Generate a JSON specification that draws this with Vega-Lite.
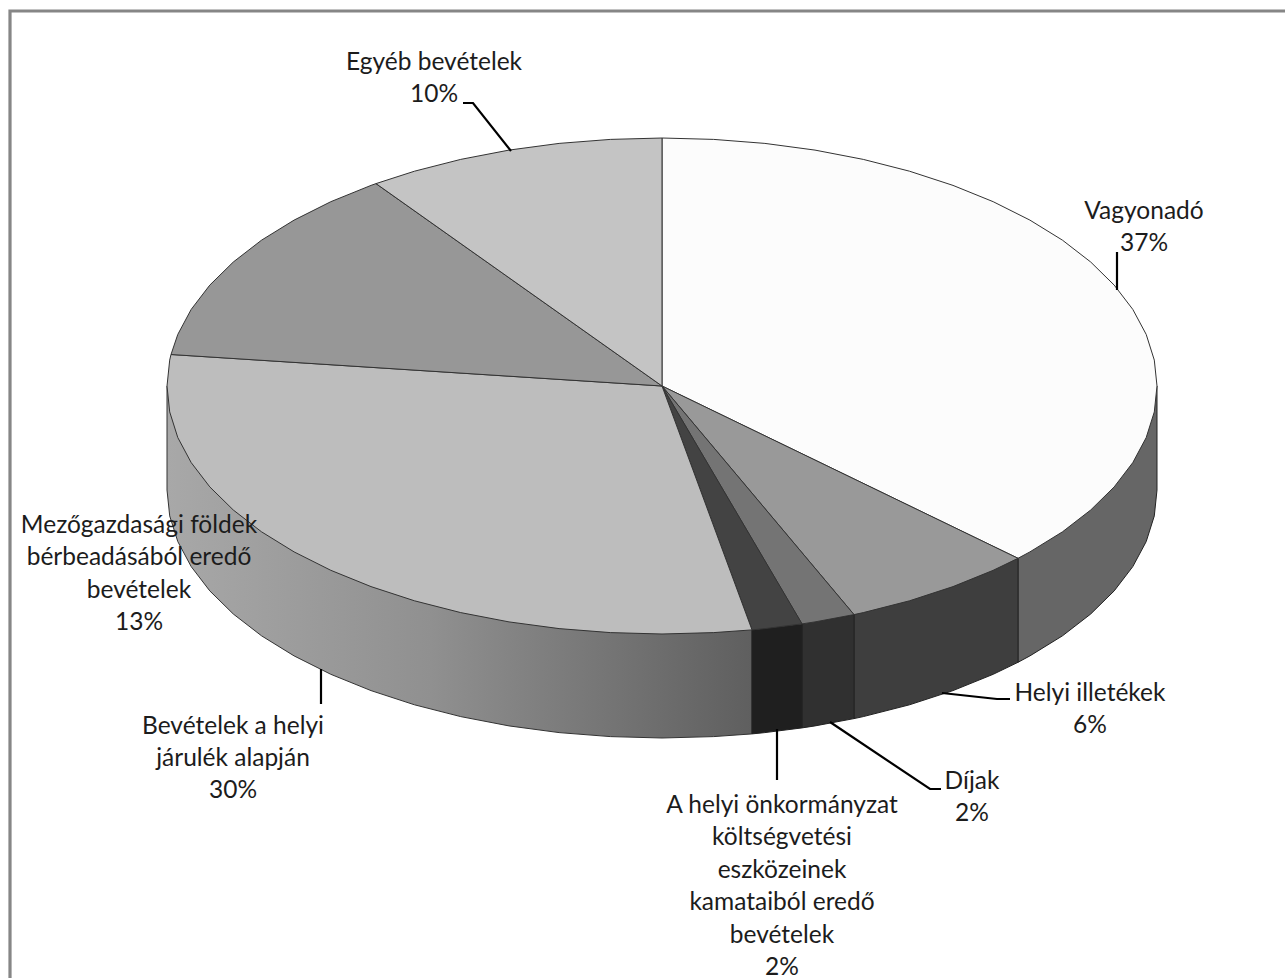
{
"$schema":"https://vega.github.io/schema/vega-lite/v6.json",
"width":1285,"height":978,"padding":0,"autosize":{"type":"none"},"background":"white",
"config":{"view":{"stroke":null}},
"datasets":{
"walls":[
{"slice":"Vagyonadó","i":0,"x":495,"y":0},{"slice":"Vagyonadó","i":1,"x":495,"y":-104},{"slice":"Vagyonadó","i":2,"x":492.3,"y":-129.9},{"slice":"Vagyonadó","i":3,"x":484.2,"y":-155.6},{"slice":"Vagyonadó","i":4,"x":470.8,"y":-180.6},{"slice":"Vagyonadó","i":5,"x":452.2,"y":-204.9},{"slice":"Vagyonadó","i":6,"x":428.7,"y":-228},{"slice":"Vagyonadó","i":7,"x":400.5,"y":-249.8},{"slice":"Vagyonadó","i":8,"x":367.9,"y":-269.9},{"slice":"Vagyonadó","i":9,"x":356,"y":-276.3},{"slice":"Vagyonadó","i":10,"x":356,"y":-172.3},{"slice":"Vagyonadó","i":11,"x":495,"y":0},
{"slice":"Helyi illetékek","i":0,"x":356,"y":-172.3},{"slice":"Helyi illetékek","i":1,"x":356,"y":-276.3},{"slice":"Helyi illetékek","i":2,"x":331.2,"y":-288.3},{"slice":"Helyi illetékek","i":3,"x":291,"y":-304.6},{"slice":"Helyi illetékek","i":4,"x":247.5,"y":-318.8},{"slice":"Helyi illetékek","i":5,"x":201.3,"y":-330.6},{"slice":"Helyi illetékek","i":6,"x":192,"y":-332.6},{"slice":"Helyi illetékek","i":7,"x":192,"y":-228.6},{"slice":"Helyi illetékek","i":8,"x":356,"y":-172.3},
{"slice":"Díjak","i":0,"x":192,"y":-228.6},{"slice":"Díjak","i":1,"x":192,"y":-332.6},{"slice":"Díjak","i":2,"x":153,"y":-339.9},{"slice":"Díjak","i":3,"x":140,"y":-341.9},{"slice":"Díjak","i":4,"x":140,"y":-237.9},{"slice":"Díjak","i":5,"x":192,"y":-228.6},
{"slice":"Kamatok","i":0,"x":140,"y":-237.9},{"slice":"Kamatok","i":1,"x":140,"y":-341.9},{"slice":"Kamatok","i":2,"x":102.9,"y":-346.6},{"slice":"Kamatok","i":3,"x":90,"y":-347.9},{"slice":"Kamatok","i":4,"x":90,"y":-243.9},{"slice":"Kamatok","i":5,"x":140,"y":-237.9}
],
"wallGradient":[
{"slice":"Helyi járulék","i":0,"x":90,"y":-243.9},{"slice":"Helyi járulék","i":1,"x":90,"y":-347.9},{"slice":"Helyi járulék","i":2,"x":51.7,"y":-350.6},{"slice":"Helyi járulék","i":3,"x":0,"y":-352},{"slice":"Helyi járulék","i":4,"x":-51.7,"y":-350.6},{"slice":"Helyi járulék","i":5,"x":-102.9,"y":-346.6},{"slice":"Helyi járulék","i":6,"x":-153,"y":-339.9},{"slice":"Helyi járulék","i":7,"x":-201.3,"y":-330.6},{"slice":"Helyi járulék","i":8,"x":-247.5,"y":-318.8},{"slice":"Helyi járulék","i":9,"x":-291,"y":-304.6},{"slice":"Helyi járulék","i":10,"x":-331.2,"y":-288.3},{"slice":"Helyi járulék","i":11,"x":-367.9,"y":-269.9},{"slice":"Helyi járulék","i":12,"x":-400.5,"y":-249.8},{"slice":"Helyi járulék","i":13,"x":-428.7,"y":-228},{"slice":"Helyi járulék","i":14,"x":-452.2,"y":-204.9},{"slice":"Helyi járulék","i":15,"x":-470.8,"y":-180.6},{"slice":"Helyi járulék","i":16,"x":-484.2,"y":-155.6},{"slice":"Helyi járulék","i":17,"x":-492.3,"y":-129.9},{"slice":"Helyi járulék","i":18,"x":-495,"y":-104},{"slice":"Helyi járulék","i":19,"x":-495,"y":0},{"slice":"Helyi járulék","i":20,"x":90,"y":-243.9}
],
"tops":[
{"slice":"Vagyonadó","i":0,"x":0,"y":0},{"slice":"Vagyonadó","i":1,"x":0,"y":248},{"slice":"Vagyonadó","i":2,"x":51.7,"y":246.6},{"slice":"Vagyonadó","i":3,"x":102.9,"y":242.6},{"slice":"Vagyonadó","i":4,"x":153,"y":235.9},{"slice":"Vagyonadó","i":5,"x":201.3,"y":226.6},{"slice":"Vagyonadó","i":6,"x":247.5,"y":214.8},{"slice":"Vagyonadó","i":7,"x":291,"y":200.6},{"slice":"Vagyonadó","i":8,"x":331.2,"y":184.3},{"slice":"Vagyonadó","i":9,"x":367.9,"y":165.9},{"slice":"Vagyonadó","i":10,"x":400.5,"y":145.8},{"slice":"Vagyonadó","i":11,"x":428.7,"y":124},{"slice":"Vagyonadó","i":12,"x":452.2,"y":100.9},{"slice":"Vagyonadó","i":13,"x":470.8,"y":76.6},{"slice":"Vagyonadó","i":14,"x":484.2,"y":51.6},{"slice":"Vagyonadó","i":15,"x":492.3,"y":25.9},{"slice":"Vagyonadó","i":16,"x":495,"y":0},{"slice":"Vagyonadó","i":17,"x":492.3,"y":-25.9},{"slice":"Vagyonadó","i":18,"x":484.2,"y":-51.6},{"slice":"Vagyonadó","i":19,"x":470.8,"y":-76.6},{"slice":"Vagyonadó","i":20,"x":452.2,"y":-100.9},{"slice":"Vagyonadó","i":21,"x":428.7,"y":-124},{"slice":"Vagyonadó","i":22,"x":400.5,"y":-145.8},{"slice":"Vagyonadó","i":23,"x":367.9,"y":-165.9},{"slice":"Vagyonadó","i":24,"x":356,"y":-172.3},{"slice":"Vagyonadó","i":25,"x":0,"y":0},
{"slice":"Helyi illetékek","i":0,"x":0,"y":0},{"slice":"Helyi illetékek","i":1,"x":356,"y":-172.3},{"slice":"Helyi illetékek","i":2,"x":331.2,"y":-184.3},{"slice":"Helyi illetékek","i":3,"x":291,"y":-200.6},{"slice":"Helyi illetékek","i":4,"x":247.5,"y":-214.8},{"slice":"Helyi illetékek","i":5,"x":201.3,"y":-226.6},{"slice":"Helyi illetékek","i":6,"x":192,"y":-228.6},{"slice":"Helyi illetékek","i":7,"x":0,"y":0},
{"slice":"Díjak","i":0,"x":0,"y":0},{"slice":"Díjak","i":1,"x":192,"y":-228.6},{"slice":"Díjak","i":2,"x":153,"y":-235.9},{"slice":"Díjak","i":3,"x":140,"y":-237.9},{"slice":"Díjak","i":4,"x":0,"y":0},
{"slice":"Kamatok","i":0,"x":0,"y":0},{"slice":"Kamatok","i":1,"x":140,"y":-237.9},{"slice":"Kamatok","i":2,"x":102.9,"y":-242.6},{"slice":"Kamatok","i":3,"x":90,"y":-243.9},{"slice":"Kamatok","i":4,"x":0,"y":0},
{"slice":"Helyi járulék","i":0,"x":0,"y":0},{"slice":"Helyi járulék","i":1,"x":90,"y":-243.9},{"slice":"Helyi járulék","i":2,"x":51.7,"y":-246.6},{"slice":"Helyi járulék","i":3,"x":0,"y":-248},{"slice":"Helyi járulék","i":4,"x":-51.7,"y":-246.6},{"slice":"Helyi járulék","i":5,"x":-102.9,"y":-242.6},{"slice":"Helyi járulék","i":6,"x":-153,"y":-235.9},{"slice":"Helyi járulék","i":7,"x":-201.3,"y":-226.6},{"slice":"Helyi járulék","i":8,"x":-247.5,"y":-214.8},{"slice":"Helyi járulék","i":9,"x":-291,"y":-200.6},{"slice":"Helyi járulék","i":10,"x":-331.2,"y":-184.3},{"slice":"Helyi járulék","i":11,"x":-367.9,"y":-165.9},{"slice":"Helyi járulék","i":12,"x":-400.5,"y":-145.8},{"slice":"Helyi járulék","i":13,"x":-428.7,"y":-124},{"slice":"Helyi járulék","i":14,"x":-452.2,"y":-100.9},{"slice":"Helyi járulék","i":15,"x":-470.8,"y":-76.6},{"slice":"Helyi járulék","i":16,"x":-484.2,"y":-51.6},{"slice":"Helyi járulék","i":17,"x":-492.3,"y":-25.9},{"slice":"Helyi járulék","i":18,"x":-495,"y":0},{"slice":"Helyi járulék","i":19,"x":-492.3,"y":25.9},{"slice":"Helyi járulék","i":20,"x":-491,"y":31.5},{"slice":"Helyi járulék","i":21,"x":0,"y":0},
{"slice":"Mezőgazdasági","i":0,"x":0,"y":0},{"slice":"Mezőgazdasági","i":1,"x":-491,"y":31.5},{"slice":"Mezőgazdasági","i":2,"x":-484.2,"y":51.6},{"slice":"Mezőgazdasági","i":3,"x":-470.8,"y":76.6},{"slice":"Mezőgazdasági","i":4,"x":-452.2,"y":100.9},{"slice":"Mezőgazdasági","i":5,"x":-428.7,"y":124},{"slice":"Mezőgazdasági","i":6,"x":-400.5,"y":145.8},{"slice":"Mezőgazdasági","i":7,"x":-367.9,"y":165.9},{"slice":"Mezőgazdasági","i":8,"x":-331.2,"y":184.3},{"slice":"Mezőgazdasági","i":9,"x":-291,"y":200.6},{"slice":"Mezőgazdasági","i":10,"x":-286,"y":202.4},{"slice":"Mezőgazdasági","i":11,"x":0,"y":0},
{"slice":"Egyéb","i":0,"x":0,"y":0},{"slice":"Egyéb","i":1,"x":-286,"y":202.4},{"slice":"Egyéb","i":2,"x":-247.5,"y":214.8},{"slice":"Egyéb","i":3,"x":-201.3,"y":226.6},{"slice":"Egyéb","i":4,"x":-153,"y":235.9},{"slice":"Egyéb","i":5,"x":-102.9,"y":242.6},{"slice":"Egyéb","i":6,"x":-51.7,"y":246.6},{"slice":"Egyéb","i":7,"x":0,"y":248},{"slice":"Egyéb","i":8,"x":0,"y":0}
],
"leaders":[
{"label":"Egyéb","i":0,"x":-199,"y":283},{"label":"Egyéb","i":1,"x":-189,"y":283},{"label":"Egyéb","i":2,"x":-151,"y":235},
{"label":"Vagyonadó","i":0,"x":455,"y":134},{"label":"Vagyonadó","i":1,"x":455,"y":96},
{"label":"Helyi","i":0,"x":348,"y":-313},{"label":"Helyi","i":1,"x":335,"y":-313},{"label":"Helyi","i":2,"x":280,"y":-307},
{"label":"Díjak","i":0,"x":279,"y":-403},{"label":"Díjak","i":1,"x":268,"y":-403},{"label":"Díjak","i":2,"x":168,"y":-336},
{"label":"Kamatok","i":0,"x":115,"y":-343},{"label":"Kamatok","i":1,"x":115,"y":-394},
{"label":"Járulék","i":0,"x":-341,"y":-283},{"label":"Járulék","i":1,"x":-341,"y":-318}
],
"frame":[
{"i":0,"x":-652,"y":-592},{"i":1,"x":-652,"y":375},{"i":2,"x":623,"y":375}
],
"labels":[
{"line":"Egyéb bevételek","x":-228,"y":324},{"line":"10%","x":-228,"y":292},
{"line":"Vagyonadó","x":482,"y":175},{"line":"37%","x":482,"y":143},
{"line":"Helyi illetékek","x":428,"y":-307},{"line":"6%","x":428,"y":-339},
{"line":"Díjak","x":310,"y":-395},{"line":"2%","x":310,"y":-427},
{"line":"A helyi önkormányzat","x":120,"y":-419},{"line":"költségvetési","x":120,"y":-451},{"line":"eszközeinek","x":120,"y":-484},{"line":"kamataiból eredő","x":120,"y":-516},{"line":"bevételek","x":120,"y":-549},{"line":"2%","x":120,"y":-581},
{"line":"Mezőgazdasági földek","x":-523,"y":-139},{"line":"bérbeadásából eredő","x":-523,"y":-171},{"line":"bevételek","x":-523,"y":-204},{"line":"13%","x":-523,"y":-236},
{"line":"Bevételek a helyi","x":-429,"y":-340},{"line":"járulék alapján","x":-429,"y":-372},{"line":"30%","x":-429,"y":-404}
]
},
"encoding":{
"x":{"field":"x","type":"quantitative","axis":null,"scale":{"domain":[-662,623],"nice":false,"zero":false}},
"y":{"field":"y","type":"quantitative","axis":null,"scale":{"domain":[-592,386],"nice":false,"zero":false}}
},
"layer":[
{"data":{"name":"wallGradient"},
"mark":{"type":"line","stroke":"#333333","strokeWidth":1,"strokeJoin":"round","fill":{"gradient":"linear","x1":0,"y1":0,"x2":1,"y2":0,"stops":[{"offset":0,"color":"#a8a8a8"},{"offset":0.45,"color":"#909090"},{"offset":1,"color":"#5f5f5f"}]}},
"encoding":{"order":{"field":"i","type":"quantitative"},"detail":{"field":"slice"}}},
{"data":{"name":"walls"},
"mark":{"type":"line","stroke":"#222222","strokeWidth":1,"strokeJoin":"round"},
"encoding":{"order":{"field":"i","type":"quantitative"},"detail":{"field":"slice"},
"fill":{"field":"slice","type":"nominal","legend":null,"scale":{"domain":["Vagyonadó","Helyi illetékek","Díjak","Kamatok"],"range":["#666666","#3e3e3e","#303030","#1f1f1f"]}}}},
{"data":{"name":"tops"},
"mark":{"type":"line","stroke":"#333333","strokeWidth":1,"strokeJoin":"round"},
"encoding":{"order":{"field":"i","type":"quantitative"},"detail":{"field":"slice"},
"fill":{"field":"slice","type":"nominal","legend":null,"scale":{"domain":["Vagyonadó","Helyi illetékek","Díjak","Kamatok","Helyi járulék","Mezőgazdasági","Egyéb"],"range":["#fcfcfc","#999999","#747474","#434343","#bdbdbd","#979797","#c4c4c4"]}}}},
{"data":{"name":"leaders"},
"mark":{"type":"line","stroke":"#000000","strokeWidth":2.2},
"encoding":{"order":{"field":"i","type":"quantitative"},"detail":{"field":"label"}}},
{"data":{"name":"frame"},
"mark":{"type":"line","stroke":"#868686","strokeWidth":3.2},
"encoding":{"order":{"field":"i","type":"quantitative"}}},
{"data":{"name":"labels"},
"mark":{"type":"text","font":"Lato","fontSize":24.5,"fill":"#1c1c1c","align":"center","baseline":"middle","dy":1},
"encoding":{"text":{"field":"line","type":"nominal"}}}
],
"resolve":{"scale":{"fill":"independent"}}
}
